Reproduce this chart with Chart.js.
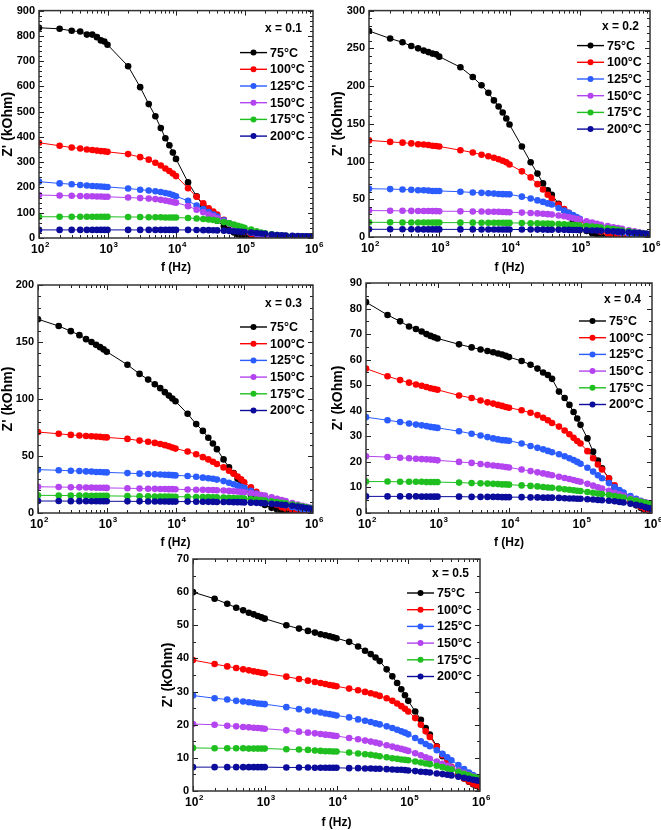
<!DOCTYPE html>
<html><head><meta charset="utf-8">
<script src="https://cdn.jsdelivr.net/npm/chart.js@4.4.0/dist/chart.umd.min.js"></script>
<style>
html,body{margin:0;padding:0;background:#fff}
body{width:661px;height:830px;position:relative;overflow:hidden}
canvas{position:absolute}
</style>
</head><body>
<canvas id="c1" width="330" height="275" style="left:0;top:0"></canvas>
<canvas id="c2" width="331" height="275" style="left:330px;top:0"></canvas>
<canvas id="c3" width="330" height="280" style="left:0;top:270px"></canvas>
<canvas id="c4" width="331" height="280" style="left:330px;top:270px"></canvas>
<canvas id="c5" width="340" height="300" style="left:160px;top:530px"></canvas>
<script>
// ---------------- DATA ----------------
const freq = [100,200,300,400,500,600,700,800,900,1000,
  2000,3000,4000,5000,6000,7000,8000,9000,10000,
  15000,20000,25000,30000,35000,40000,50000,60000,70000,80000,90000,100000,
  125000,150000,175000,200000,250000,300000,350000,400000,500000,600000,700000,800000,900000,1000000];
const temperatures = ['75°C','100°C','125°C','150°C','175°C','200°C'];
const compositions = ['x = 0.1','x = 0.2','x = 0.3','x = 0.4','x = 0.5'];
const xTickBase = '10';
const xTickExponents = ['2','3','4','5','6'];
const xTickValues = [1e2,1e3,1e4,1e5,1e6];

// x = 0.1
const p1_75  = [832,828,820,817,805,805,795,782,778,765, 680,597,530,482,435,395,367,338,313, 220,165,128,102,82,68,47,33,22,14,10,8, 6,5,4.5,4,3.5,3.5,3,3,3,3,3,3,3,3];
const p1_100 = [377,365,358,354,350,348,346,344,343,341, 332,320,310,298,287,275,265,255,245, 197,163,137,118,105,93,72,57,45,36,29,23, 16,12,9,8,6,5,4.5,4,4,3.5,3.5,3,3,3];
const p1_125 = [223,216,213,210,208,206,205,204,203,202, 196,191,188,185,182,178,175,170,165, 147,128,115,103,93,85,70,58,48,40,34,29, 21,16,13,11,9,8,7,7,6,6,5.5,5,5,5];
const p1_150 = [170,168,167,166,165,165,164,164,163,163, 160,158,156,154,151,148,145,142,140, 126,112,102,93,86,78,66,56,48,41,36,31, 24,19,15,13,10,8,7,6.5,6,5.5,5.5,5,5,5];
const p1_175 = [84,84,84,84,84,84,84,84,84,84, 83,83,82,82,82,81,81,81,81, 79,77,75,73,71,68,63,58,53,48,44,40, 33,27,22,19,15,12,10,9,7,6.5,6,5.5,5,5];
const p1_200 = [32,32,32,32,32,32,32,32,32,32, 32,32,32,32,32,32,32,32,32, 32,31.5,31,31,30.5,30,29,28,27,26,25,24, 22,20,18,16.5,14,12,11,10,8.5,7.5,7,6.5,6,6];

// x = 0.2
const p2_75  = [273,263,258,253,250,247,245,243,242,239, 225,212,201,191,181,173,165,157,149, 120,99,84,71,62,56,44,35,28,22,17,13, 8,5,3.5,2.5,1.5,1,0.8,0.5,0.5,0.5,0.5,0.7,0.8,1];
const p2_100 = [128,126,125,124,123,122.5,122,121,120.5,120, 115,112,109,107,105,103,101,99,96, 87,79,70,63,56,51,43,37,32,28.5,25,22, 16,12,9,7,4.5,3,2,1.5,1.2,1.2,1.2,1.3,1.4,1.5];
const p2_125 = [64,63.5,63,62.5,62,62,61.5,61,61,61, 60,59,58.5,58,57.5,57,56.8,56.6,56.5, 53.5,51,48.5,46.5,44.5,43,38.5,35,32,29,26.5,24, 19.5,16,13.5,11.5,9,7.5,6.5,5.5,4.5,4,3.5,3,3,2.5];
const p2_150 = [35,34.8,34.7,34.6,34.5,34.4,34.4,34.3,34.3,34.2, 34,33.8,33.7,33.5,33.4,33.3,33.1,33,32.8, 32.3,31.8,31.3,30.8,30.3,29.8,28.5,27.4,26.3,25,24,23, 20.8,19,17.5,16.3,14.5,13,11.8,10.8,9,7.5,6.3,5.2,4.3,3.5];
const p2_175 = [19.5,19.4,19.3,19.3,19.2,19.2,19.2,19.1,19.1,19.1, 19,19,18.9,18.9,18.8,18.8,18.8,18.7,18.7, 18.5,18.3,18.1,17.9,17.7,17.5,17.1,16.7,16.3,15.9,15.6,15.3, 14.6,13.9,13.2,12.6,11.5,10.4,9.5,8.7,7.4,6.3,5.4,4.7,4.1,3.6];
const p2_200 = [10.2,10.2,10.2,10.2,10.1,10.1,10.1,10.1,10.1,10.1, 10.1,10.1,10,10,10,10,10,10,10, 9.9,9.9,9.8,9.8,9.7,9.7,9.6,9.5,9.4,9.3,9.2,9.1, 8.9,8.7,8.5,8.3,7.9,7.5,7.1,6.8,6.2,5.6,5.1,4.6,4.2,3.8];

// x = 0.3
const p3_75  = [170,164,159.5,156,152.5,150,147.5,145.5,143.5,141.5, 130,122,117,113,109.5,106,103,100.5,98, 87,78,72,66,61,56,47,40,35,30,26,22, 16,12,9,7,4.5,3,2,1.5,1,0.7,0.5,0.5,0.5,0.5];
const p3_100 = [71,69.5,68.5,68,67.5,67.3,67,66.8,66.5,66.3, 65,63.5,62.5,61.5,60.5,59.5,58.5,57.5,56.5, 54,51.5,49,47,45,43,40,37,34.5,32,29.5,27, 22.5,18.5,15.5,13,9.5,7,5,4,2.5,1.5,1,0.7,0.5,0.3];
const p3_125 = [38,37.5,37,36.8,36.5,36.3,36,36,35.8,35.6, 35,34.5,34.2,34,33.8,33.6,33.4,33.2,33, 32.5,31.8,31,30.5,30,29.3,28,26.5,25.2,24,23,22, 19.5,17,15,13.3,11,9,7.8,6.8,5.3,4.3,3.6,3.2,2.9,2.6];
const p3_150 = [23,22.8,22.6,22.5,22.4,22.3,22.2,22.2,22.1,22, 21.7,21.5,21.3,21.2,21.1,21,20.9,20.9,20.8, 20.6,20.4,20.3,20.2,20.1,20,19.7,19.4,19.1,18.8,18.5,18.2, 17.4,16.6,15.8,15.2,13.8,12.5,11.4,10.4,8.8,7.5,6.4,5.5,4.8,4.2];
const p3_175 = [15.5,15.4,15.3,15.2,15.2,15.1,15.1,15,15,15, 14.8,14.7,14.6,14.5,14.5,14.4,14.4,14.3,14.3, 14.2,14.1,14,13.9,13.8,13.7,13.6,13.4,13.2,13,12.8,12.6, 12.2,11.8,11.4,11,10.3,9.6,9,8.4,7.4,6.5,5.7,5,4.4,3.8];
const p3_200 = [10.5,10.5,10.4,10.4,10.4,10.3,10.3,10.3,10.3,10.3, 10.2,10.2,10.1,10.1,10.1,10.1,10,10,10, 10,9.9,9.9,9.8,9.8,9.7,9.7,9.6,9.5,9.5,9.4,9.3, 9.1,8.9,8.7,8.5,8.1,7.7,7.3,7,6.3,5.6,5,4.4,3.9,3.4];

// x = 0.4
const p4_75  = [82.5,77.5,75,73,72,71,70,69.3,68.8,68.3, 66,64.8,64,63.4,62.9,62.4,62,61.5,61, 59.5,58,56.5,55,54,52.5,47.5,45,42.3,39.5,37,34.5, 29.2,24,20.5,17.5,13.5,10,8,6.5,4.5,3,2,1.2,0.8,0.5];
const p4_100 = [56.5,53.5,52,51,50.3,49.8,49.3,48.8,48.5,48.2, 46,45,44,43.3,42.8,42.3,41.9,41.5,41.2, 40.2,39.2,38.3,37.3,36.3,35.2,33.8,32.3,30.8,29.4,28.2,27.2, 24.2,21.4,19,17,13.6,10.8,8.6,7,4.8,3.3,2.3,1.6,1.1,0.7];
const p4_125 = [37.5,36.3,35.6,35,34.6,34.3,34,33.7,33.5,33.3, 32,31,30.3,29.7,29.2,28.8,28.5,28.4,28.3, 27.2,26.2,25.5,24.9,24.3,23.8,23,22.2,21.4,20.7,20,19.3, 17.7,16.2,14.8,13.6,11.7,10.2,9,8,6.6,5.6,4.8,4.2,3.7,3.3];
const p4_150 = [22.2,21.9,21.6,21.4,21.2,21.1,21,20.9,20.8,20.6, 20,19.6,19.2,18.9,18.6,18.4,18.2,18,17.8, 17,16.4,15.9,15.5,15.1,14.8,14.2,13.7,13.3,12.9,12.5,12.2, 11.4,10.7,10.1,9.6,8.7,7.9,7.3,6.7,5.8,5.1,4.6,4.2,3.9,3.6];
const p4_175 = [12.3,12.3,12.2,12.2,12.2,12.2,12.1,12.1,12.1,12.1, 11.9,11.7,11.6,11.5,11.4,11.3,11.2,11.2,11.1, 10.8,10.6,10.4,10.2,10,9.9,9.6,9.3,9.1,8.9,8.7,8.6, 8.2,7.9,7.6,7.4,7,6.6,6.3,6,5.4,4.9,4.4,4,3.7,3.4];
const p4_200 = [6.5,6.5,6.5,6.5,6.5,6.4,6.4,6.4,6.4,6.4, 6.4,6.3,6.3,6.3,6.3,6.3,6.2,6.2,6.2, 6.2,6.1,6.1,6,6,6,5.9,5.8,5.7,5.7,5.6,5.6, 5.4,5.3,5.1,5,4.8,4.6,4.3,4.1,3.6,3.2,2.8,2.3,1.9,1.5];

// x = 0.5
const p5_75  = [60,58,56.5,55.3,54.5,53.8,53.3,52.8,52.4,52, 50,49,48.3,47.8,47.3,47,46.7,46.4,46.1, 45,43.6,42.3,41.3,40.3,39.2,36.7,34.6,32.6,30.7,28.9,27.2, 24,21.5,19,17,13.5,10.5,8.5,7,5,3.8,2.8,2,1.5,1];
const p5_100 = [39.5,38.3,37.6,37.1,36.7,36.4,36.1,35.9,35.7,35.5, 34.5,33.8,33.3,32.9,32.6,32.3,32,31.8,31.6, 30.9,30.4,29.9,29.5,29.1,28.7,28,27.2,26.4,25.6,24.8,24, 22,20,18,16.3,13.3,10.8,8.8,7.3,5.2,3.8,2.9,2.2,1.7,1.3];
const p5_125 = [28.8,28,27.6,27.2,27,26.8,26.6,26.4,26.3,26.2, 25.3,24.7,24.3,24,23.7,23.4,23.2,23,22.8, 22.2,21.6,21.2,20.8,20.4,20.1,19.5,19,18.5,18,17.6,17.1, 16,15,14.2,13.5,12.3,11.2,10.2,9.3,7.8,6.6,5.6,4.8,4.2,3.6];
const p5_150 = [20.2,20,19.7,19.5,19.3,19.2,19.1,19,18.9,18.8, 18.3,17.9,17.6,17.4,17.2,17,16.9,16.7,16.6, 16,15.6,15.2,14.9,14.6,14.3,13.8,13.4,13,12.7,12.4,12.1, 11.4,10.8,10.2,9.7,8.9,8.2,7.6,7.1,6.2,5.5,4.9,4.4,4,3.6];
const p5_175 = [13,12.9,12.9,12.9,12.9,12.8,12.8,12.8,12.8,12.8, 12.6,12.5,12.4,12.2,12.1,12,12,11.9,11.9, 11.6,11.3,11.1,10.9,10.7,10.5,10.2,9.9,9.7,9.5,9.4,9.3, 8.9,8.6,8.3,8.1,7.6,7.2,6.8,6.5,5.8,5.2,4.7,4.3,4,3.8];
const p5_200 = [7.2,7.2,7.2,7.2,7.2,7.2,7.2,7.2,7.2,7.2, 7.1,7.1,7.1,7,7,7,7,7,7, 6.9,6.9,6.8,6.8,6.7,6.7,6.6,6.5,6.4,6.4,6.3,6.2, 6,5.8,5.7,5.6,5.3,5.1,4.9,4.7,4.3,4,3.7,3.4,3.2,3];

// y axis ranges (max, major step, minor step)
const yMax   = [900, 300, 200, 90, 70];
const yStep  = [100, 50, 50, 10, 10];
const yMinor = [20, 10, 10, 5, 5];

const seriesByPanel = [
  [p1_75,p1_100,p1_125,p1_150,p1_175,p1_200],
  [p2_75,p2_100,p2_125,p2_150,p2_175,p2_200],
  [p3_75,p3_100,p3_125,p3_150,p3_175,p3_200],
  [p4_75,p4_100,p4_125,p4_150,p4_175,p4_200],
  [p5_75,p5_100,p5_125,p5_150,p5_175,p5_200]
];

// ---------------- STYLE / LAYOUT ----------------
const colors = ['#000000','#ff0000','#2a5cff','#b344f0','#1fbf1f','#0b0b9c'];
const FONT = '"Liberation Sans", Arial, Helvetica, sans-serif';
const layouts = [
  {id:'c1', area:{l:39,t:7,r:313,b:238}, tdy:18, ldy:42},
  {id:'c2', area:{l:39,t:7,r:320,b:237}, tdy:16, ldy:35},
  {id:'c3', area:{l:38,t:15,r:313,b:243}, tdy:19, ldy:42},
  {id:'c4', area:{l:36,t:13,r:322,b:243}, tdy:17, ldy:38},
  {id:'c5', area:{l:33,t:29,r:320,b:261}, tdy:15, ldy:34}
];

const framePlugin = {
  id: 'frameTicks',
  afterDatasetsDraw(chart) {
    const {ctx, chartArea: a, scales: {x, y}} = chart;
    const o = chart.options.plugins.frameTicks;
    ctx.save();
    ctx.strokeStyle = '#222';
    ctx.lineWidth = 1;
    ctx.beginPath();
    for (let e = 2; e < 6; e++) {
      for (let m = 1; m <= 9; m++) {
        const v = m * Math.pow(10, e);
        const px = Math.round(x.getPixelForValue(v)) + 0.5;
        const len = m === 1 ? 5 : 3;
        ctx.moveTo(px, a.bottom); ctx.lineTo(px, a.bottom - len);
        ctx.moveTo(px, a.top); ctx.lineTo(px, a.top + len);
      }
    }
    for (let v = 0; v <= o.max + 1e-9; v += o.minor) {
      const py = Math.round(y.getPixelForValue(v)) + 0.5;
      const major = Math.abs(v / o.step - Math.round(v / o.step)) < 1e-6;
      const len = major ? 5 : 3;
      ctx.moveTo(a.left, py); ctx.lineTo(a.left + len, py);
      ctx.moveTo(a.right, py); ctx.lineTo(a.right - len, py);
    }
    ctx.stroke();
    ctx.lineWidth = 1.5;
    ctx.strokeStyle = '#333';
    ctx.strokeRect(a.left, a.top, a.right - a.left, a.bottom - a.top);

    // x tick labels: "10" with raised exponent
    ctx.fillStyle = '#000';
    ctx.textBaseline = 'middle';
    xTickValues.forEach((v, i) => {
      const px = x.getPixelForValue(v);
      ctx.font = 'bold 12px ' + FONT;
      const wb = ctx.measureText(xTickBase).width;
      ctx.font = 'bold 8px ' + FONT;
      const we = ctx.measureText(xTickExponents[i]).width;
      const x0 = px - (wb + we) / 2 + 1;
      const yy = a.bottom + 12;
      ctx.textAlign = 'left';
      ctx.font = 'bold 12px ' + FONT;
      ctx.fillText(xTickBase, x0, yy);
      ctx.font = 'bold 8px ' + FONT;
      ctx.fillText(xTickExponents[i], x0 + wb + 0.5, yy - 5);
    });
    ctx.restore();
  }
};

const legendPlugin = {
  id: 'panelLegend',
  afterDraw(chart) {
    const {ctx, chartArea: a} = chart;
    const o = chart.options.plugins.panelLegend;
    ctx.save();
    ctx.font = 'bold 12px ' + FONT;
    ctx.fillStyle = '#000';
    ctx.textBaseline = 'middle';
    ctx.textAlign = 'right';
    ctx.fillText(o.title, a.right - 11, a.top + o.tdy);
    ctx.textAlign = 'left';
    chart.data.datasets.forEach((ds, i) => {
      const yy = a.top + o.ldy + i * 16.7;
      const x0 = a.right - 73;
      ctx.strokeStyle = ds.borderColor;
      ctx.lineWidth = 1.4;
      ctx.beginPath(); ctx.moveTo(x0, yy); ctx.lineTo(x0 + 27, yy); ctx.stroke();
      ctx.fillStyle = ds.backgroundColor;
      ctx.beginPath(); ctx.arc(x0 + 13.5, yy, 3, 0, Math.PI * 2); ctx.fill();
      ctx.fillStyle = '#000';
      ctx.font = 'bold 12.5px ' + FONT;
      ctx.fillText(ds.label, x0 + 30, yy + 0.5);
    });
    ctx.restore();
  }
};

layouts.forEach((L, p) => {
  const cv = document.getElementById(L.id);
  const W = cv.width, H = cv.height;
  const datasets = seriesByPanel[p].map((vals, i) => ({
    label: temperatures[i],
    data: freq.map((f, j) => ({x: f, y: vals[j]})),
    borderColor: colors[i],
    backgroundColor: colors[i],
    borderWidth: 1,
    pointRadius: 3.3,
    pointBorderWidth: 0,
    pointHoverRadius: 3.3,
    tension: 0,
    order: 5 - i
  }));
  new Chart(cv.getContext('2d'), {
    type: 'line',
    data: {datasets},
    options: {
      responsive: false,
      animation: false,
      devicePixelRatio: 1,
      events: [],
      layout: {padding: {left: 0, top: L.area.t, right: W - L.area.r, bottom: 0}},
      plugins: {
        legend: {display: false},
        tooltip: {enabled: false},
        frameTicks: {max: yMax[p], step: yStep[p], minor: yMinor[p]},
        panelLegend: {title: compositions[p], tdy: L.tdy, ldy: L.ldy}
      },
      scales: {
        x: {
          type: 'logarithmic', min: 100, max: 1e6,
          grid: {display: false, drawTicks: false},
          border: {display: false},
          afterBuildTicks: s => { s.ticks = xTickValues.map(v => ({value: v, major: true})); },
          afterFit: s => { s.height = H - L.area.b; },
          ticks: {display: false},
          title: {display: true, text: 'f (Hz)', color: '#000',
            font: {family: FONT, size: 12, weight: 'bold'}, padding: {top: 0, bottom: 0}}
        },
        y: {
          min: 0, max: yMax[p],
          grid: {display: false, drawTicks: false},
          border: {display: false},
          afterFit: s => { s.width = L.area.l; },
          ticks: {
            stepSize: yStep[p], padding: 4, color: '#000',
            font: {family: FONT, size: 11, weight: 'bold'}
          },
          title: {display: true, text: "Z' (kOhm)", color: '#000',
            font: {family: FONT, size: 14, weight: 'bold'}, padding: {top: 0, bottom: 0}}
        }
      }
    },
    plugins: [framePlugin, legendPlugin]
  });
});
</script>
</body></html>
